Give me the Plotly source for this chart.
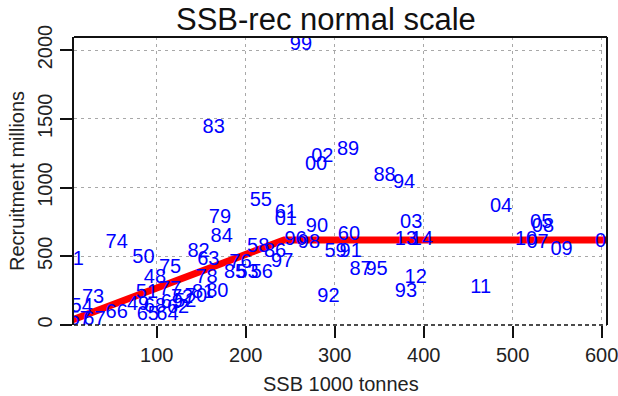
import plotly.graph_objects as go

# Year labels, SSB (1000 t) and recruitment (millions)
years = ["48","49","50","51","52","53","54","55","56","57","58","59","60","61","62","63","64","65","66","67",
         "68","69","70","71","72","73","74","75","76","77","78","79","80","81","82","83","84","85","86","87",
         "88","89","90","91","92","93","94","95","96","97","98","99","00","01","02","03","04","05","06","07",
         "08","09","10","11","12","13","14"]
ssb = [98, 79, 85, 89, 132, 202, 15.6, 217, 218, 13.5, 214, 301, 316, 245, 124, 158, 112, 90, 55, 30,
       98, 117, 144, 5.6, 128.5, 28.5, 55, 115, 194, 115, 156, 171, 168, 152, 147, 164, 173, 188, 233, 329,
       356, 315, 280, 318, 293, 380, 378, 347, 256, 241, 271, 262, 279, 245, 286, 386, 487, 532, 605, 528,
       534, 555, 515, 464, 391, 380, 398]
rec = [339, 145, 485, 230, 167, 376, 133, 902, 376, 36, 567, 533, 654, 814, 124, 472, 73, 73, 85, 36,
       131, 160, 203, 472, 196, 194, 594, 416, 451, 254, 339, 775, 242, 233, 533, 1434, 642, 376, 533, 400,
       1087, 1274, 714, 533, 206, 242, 1036, 400, 618, 460, 598, 2038, 1164, 763, 1225, 739, 860, 743, 605, 594,
       712, 545, 618, 267, 339, 618, 618]

# Hockey-stick fit (segmented regression)
fit_ssb = [0, 243, 610]
fit_rec = [25, 618, 618]

x_ticks = [100, 200, 300, 400, 500, 600]
y_ticks = [0, 500, 1000, 1500, 2000]

FONT = "Liberation Sans, Arial, Helvetica, sans-serif"

fig = go.Figure()
fig.add_trace(go.Scatter(x=fit_ssb, y=fit_rec, mode="lines",
                         line=dict(color="#ff0000", width=7), hoverinfo="skip"))
fig.add_trace(go.Scatter(x=ssb, y=rec, mode="text", text=years,
                         textposition="middle center",
                         textfont=dict(family=FONT, size=20, color="#0000ff")))

grid = dict(showgrid=True, gridcolor="#a8a8a8", gridwidth=1.2, griddash="3px,4px")
fig.update_xaxes(range=[7, 606], tickvals=x_ticks, ticks="outside", ticklen=12, tickwidth=2,
                 tickcolor="#111", showline=False, zeroline=False, automargin=False,
                 ticklabeloverflow="allow",
                 tickfont=dict(family=FONT, size=20, color="#222"), **grid)
fig.update_yaxes(range=[0, 2095], tickvals=y_ticks, ticks="outside", ticklen=12, tickwidth=2,
                 tickcolor="#111", showline=True, linecolor="#111", linewidth=2, zeroline=False,
                 automargin=False, ticklabeloverflow="allow",
                 tickangle=-90, tickfont=dict(family=FONT, size=20, color="#222"), **grid)

shapes = [
    dict(type="line", xref="paper", yref="paper", x0=0, x1=1, y0=1, y1=1, line=dict(color="#111", width=2)),
    dict(type="line", xref="paper", yref="paper", x0=1, x1=1, y0=0, y1=1, line=dict(color="#111", width=2)),
    dict(type="line", xref="paper", yref="paper", x0=0, x1=1, y0=0, y1=0,
         line=dict(color="#111", width=1.6, dash="4px,3px")),
]

annotations = [
    dict(text="SSB-rec normal scale", xref="paper", yref="paper", x=0.473, y=1.062,
         xanchor="center", yanchor="middle", showarrow=False,
         font=dict(family=FONT, size=31, color="#111")),
    dict(text="SSB 1000 tonnes", xref="paper", yref="paper", x=0.5, y=-0.205,
         xanchor="center", yanchor="middle", showarrow=False,
         font=dict(family=FONT, size=20, color="#222")),
    dict(text="Recruitment millions", xref="paper", yref="paper", x=-0.107, y=0.5, textangle=-90,
         xanchor="center", yanchor="middle", showarrow=False,
         font=dict(family=FONT, size=20, color="#222")),
]

fig.update_layout(width=618, height=396, margin=dict(l=74, r=11, t=37, b=71),
                  paper_bgcolor="white", plot_bgcolor="white", showlegend=False,
                  shapes=shapes, annotations=annotations)

fig.write_html("out.html", config={"displayModeBar": False},
               post_script="document.body.style.margin='0';document.body.style.overflow='hidden';")
